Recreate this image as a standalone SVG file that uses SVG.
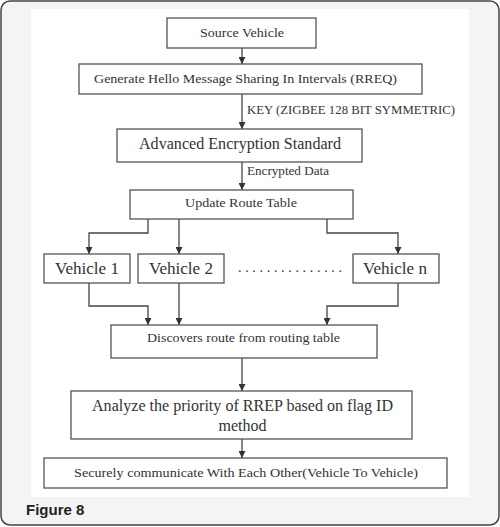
<svg xmlns="http://www.w3.org/2000/svg" width="500" height="527" viewBox="0 0 500 527">
<style>
.box{fill:#fff;stroke:#555;stroke-width:1.3}
.t{font-family:"Liberation Serif","Times New Roman",serif;fill:#333;text-anchor:middle}
.l{font-family:"Liberation Serif","Times New Roman",serif;fill:#333}
.c{fill:none;stroke:#444;stroke-width:1.3}
</style>
<defs>
<marker id="ah" viewBox="0 0 8 8" refX="8" refY="4" markerWidth="7" markerHeight="7" markerUnits="userSpaceOnUse" orient="auto">
<path d="M0,0 L8,4 L0,8 z" fill="#333"/>
</marker>
</defs>
<rect x="1" y="1" width="498" height="524" rx="9" fill="#f3f4f3" stroke="#444" stroke-width="1.5"/>
<rect x="31" y="9" width="438" height="488" fill="#fff"/>
<g id="connectors">
<path class="c" d="M242,48 V64" marker-end="url(#ah)"/>
<path class="c" d="M242,94 V129" marker-end="url(#ah)"/>
<path class="c" d="M242,162 V190" marker-end="url(#ah)"/>
<path class="c" d="M148,219 V233 H89 V254" marker-end="url(#ah)"/>
<path class="c" d="M179,219 V254" marker-end="url(#ah)"/>
<path class="c" d="M327,219 V233 H398 V254" marker-end="url(#ah)"/>
<path class="c" d="M89,283 V306 H148 V325" marker-end="url(#ah)"/>
<path class="c" d="M179,283 V325" marker-end="url(#ah)"/>
<path class="c" d="M398,283 V306 H327 V325" marker-end="url(#ah)"/>
<path class="c" d="M242,358 V391" marker-end="url(#ah)"/>
<path class="c" d="M242,439 V458" marker-end="url(#ah)"/>
<text class="l" x="247" y="114" font-size="12" textLength="208" lengthAdjust="spacingAndGlyphs">KEY (ZIGBEE 128 BIT SYMMETRIC)</text>
<text class="l" x="247" y="175" font-size="12" textLength="82" lengthAdjust="spacingAndGlyphs">Encrypted Data</text>
</g>
<g id="source">
<rect class="box" x="167" y="18" width="149" height="30"/>
<text class="t" x="242" y="37" font-size="13" textLength="84" lengthAdjust="spacingAndGlyphs">Source Vehicle</text>
</g>
<g id="generate">
<rect class="box" x="79" y="64" width="343" height="30"/>
<text class="t" x="245.5" y="83" font-size="13" textLength="303" lengthAdjust="spacingAndGlyphs">Generate Hello Message Sharing In Intervals (RREQ)</text>
</g>
<g id="aes">
<rect class="box" x="117" y="129" width="245" height="33"/>
<text class="t" x="240" y="149" font-size="16" textLength="202" lengthAdjust="spacingAndGlyphs">Advanced Encryption Standard</text>
</g>
<g id="update">
<rect class="box" x="130" y="190" width="223" height="29"/>
<text class="t" x="241" y="207" font-size="13" textLength="112" lengthAdjust="spacingAndGlyphs">Update Route Table</text>
</g>
<g id="vehicle1">
<rect class="box" x="44" y="254" width="86" height="29"/>
<text class="t" x="87" y="274" font-size="16" textLength="64" lengthAdjust="spacingAndGlyphs">Vehicle  1</text>
</g>
<g id="vehicle2">
<rect class="box" x="138" y="254" width="86" height="29"/>
<text class="t" x="181" y="274" font-size="16" textLength="64" lengthAdjust="spacingAndGlyphs">Vehicle  2</text>
</g>
<g id="dots">
<text class="t" x="290" y="272" font-size="14" textLength="104" lengthAdjust="spacing">...............</text>
</g>
<g id="vehiclen">
<rect class="box" x="353" y="254" width="86" height="29"/>
<text class="t" x="395" y="274" font-size="16" textLength="64" lengthAdjust="spacingAndGlyphs">Vehicle  n</text>
</g>
<g id="discovers">
<rect class="box" x="111" y="325" width="266" height="33"/>
<text class="t" x="243.5" y="342" font-size="13" textLength="193" lengthAdjust="spacingAndGlyphs">Discovers route from routing table</text>
</g>
<g id="analyze">
<rect class="box" x="71" y="391" width="341" height="48"/>
<text class="t" x="242.5" y="411" font-size="16" textLength="301" lengthAdjust="spacingAndGlyphs">Analyze the priority of RREP based on flag ID</text>
<text class="t" x="242.5" y="431" font-size="16">method</text>
</g>
<g id="securely">
<rect class="box" x="44" y="458" width="403" height="30"/>
<text class="t" x="246" y="477" font-size="13.5" textLength="344" lengthAdjust="spacingAndGlyphs">Securely communicate With Each Other(Vehicle To Vehicle)</text>
</g>
<text x="26" y="515" font-family="Liberation Sans,Arial,sans-serif" font-weight="bold" font-size="15" fill="#222">Figure 8</text>
</svg>
